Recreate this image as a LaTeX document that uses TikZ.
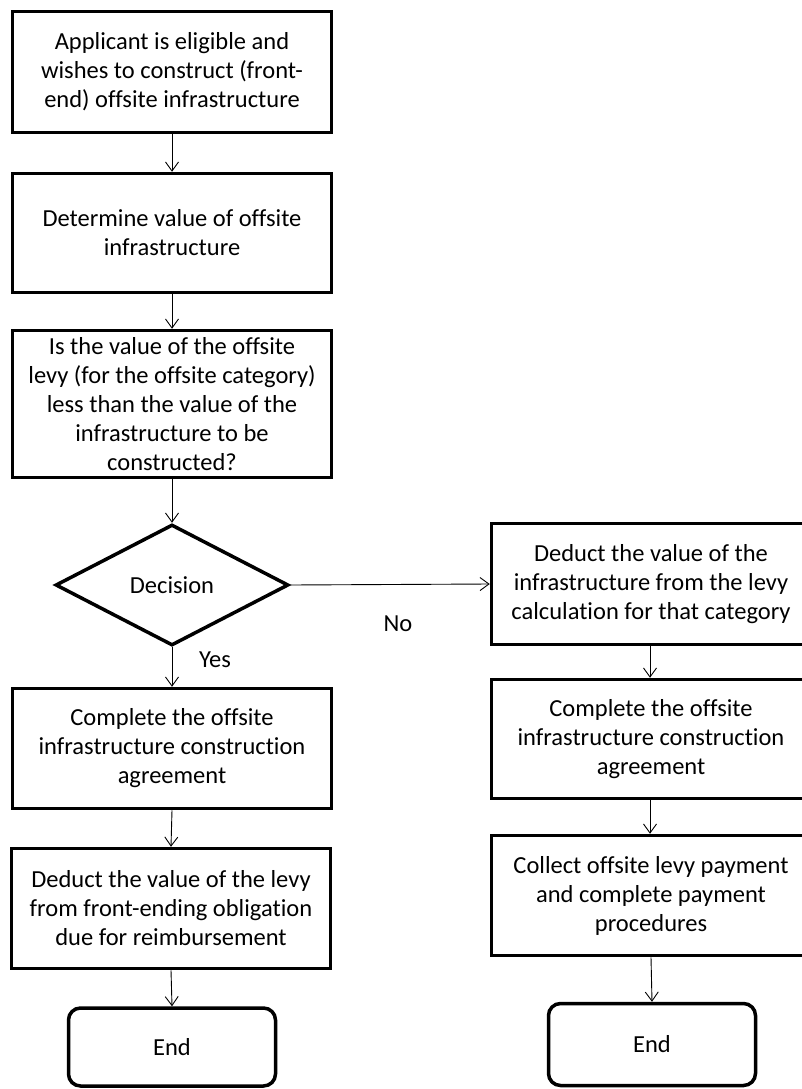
\documentclass[tikz,border=0pt]{standalone}
\usepackage{fontspec}
\setmainfont[Ligatures=NoCommon]{Carlito}
\usetikzlibrary{arrows.meta,shapes.geometric}
\tikzset{
  txt/.style={font=\fontsize{24.5}{29}\selectfont},
  box/.style={txt, draw=black, line width=3.5pt, fill=white, minimum width=319pt, align=center, inner sep=0pt},
  endbox/.style={txt, draw=black, line width=3.5pt, rounded corners=12pt, minimum width=207pt, align=center, inner sep=0pt},
  decision/.style={txt, draw=black, line width=3.5pt, diamond, aspect=1.9, minimum width=233pt, minimum height=121pt, inner sep=0pt},
  conn/.style={line width=0.9pt, -{Straight Barb[length=9pt,width=13pt,line width=0.9pt]}}
}
\begin{document}
\begin{tikzpicture}[x=1pt,y=1pt]
\useasboundingbox (0,0) rectangle (802,-1089);
\clip (0,0) rectangle (802,-1089);
% left column
\node[box, minimum height=121pt] (b1) at (172,-72) {Applicant is eligible and\\wishes to construct (front-\\end) offsite infrastructure};
\node[box, minimum height=119pt] (b2) at (172,-233) {Determine value of offsite\\infrastructure};
\node[box, minimum height=147pt] (b3) at (172,-404) {Is the value of the offsite\\levy (for the offsite category)\\less than the value of the\\infrastructure to be\\constructed?};
\node[decision] (d) at (172,-585) {Decision};
\node[box, minimum height=120pt] (b4) at (172,-748.5) {Complete the offsite\\infrastructure construction\\agreement};
\node[box, minimum height=120pt] (b5) at (171,-908.5) {Deduct the value of the levy\\from front-ending obligation\\due for reimbursement};
\node[endbox, minimum height=78pt] (e1) at (172,-1047) {End};
% right column
\node[box, minimum height=121pt] (r1) at (651,-584) {Deduct the value of the\\infrastructure from the levy\\calculation for that category};
\node[box, minimum height=119pt] (r2) at (651,-739) {Complete the offsite\\infrastructure construction\\agreement};
\node[box, minimum height=120pt] (r3) at (651,-895.5) {Collect offsite levy payment\\and complete payment\\procedures};
\node[endbox, minimum height=82pt] (e2) at (652,-1044.5) {End};
% labels
\node[txt] (no) at (398,-624) {No};
\node[txt] (yes) at (215,-660) {Yes};
% connectors
\draw[conn] (b1.south) -- (b2.north);
\draw[conn] (b2.south) -- (b3.north);
\draw[conn] (b3.south) -- (d.north);
\draw[conn] (d.south) -- (b4.north);
\draw[conn] (b4.south) -- (b5.north);
\draw[conn] (b5.south) -- (e1.north);
\draw[conn] (d.east) -- (r1.west);
\draw[conn] ([xshift=-1pt]r1.south) -- ([xshift=-1pt]r2.north);
\draw[conn] ([xshift=-1pt]r2.south) -- ([xshift=-1pt]r3.north);
\draw[conn] (r3.south) -- (e2.north);
\end{tikzpicture}
\end{document}
